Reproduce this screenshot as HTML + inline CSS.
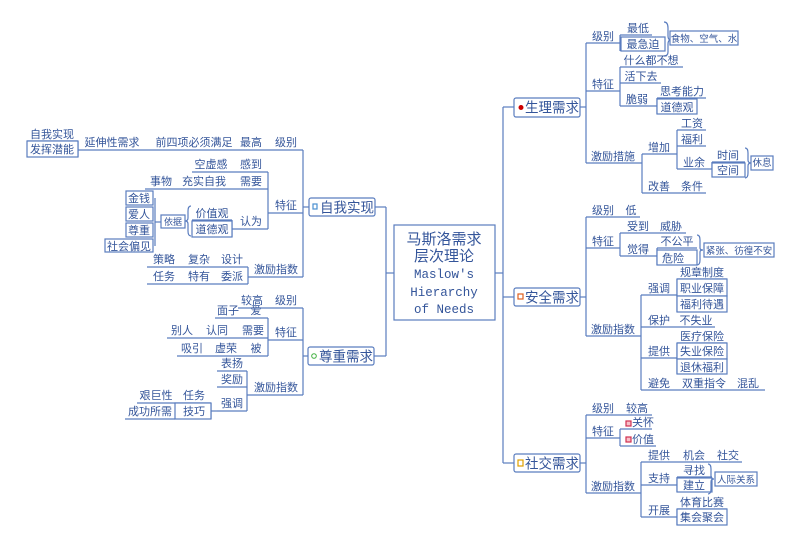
<!DOCTYPE html>
<html><head><meta charset="utf-8"><style>
html,body{margin:0;padding:0;background:#fff;width:800px;height:546px;overflow:hidden}
svg{display:block}
text{font-family:"Liberation Sans","Noto Sans CJK SC",sans-serif;font-size:11px;fill:#34559a;text-anchor:middle}
.m{font-size:14px}
.mono{font-family:"Liberation Mono",monospace;font-size:12.5px}
line,rect,path{stroke:#5a7dbf;stroke-width:1.2;fill:none}
rect{fill:#fff}
</style></head><body>
<svg width="800" height="546" viewBox="0 0 800 546" xmlns="http://www.w3.org/2000/svg">
<!-- central -->
<rect x="394" y="225" width="101" height="95"/>
<text x="444" y="244" style="font-size:15px">马斯洛需求</text>
<text x="444" y="261" style="font-size:15px">层次理论</text>
<text x="444" y="278" class="mono">Maslow's</text>
<text x="444" y="296" class="mono">Hierarchy</text>
<text x="444" y="313" class="mono">of Needs</text>
<line x1="386" y1="207" x2="386" y2="356"/><line x1="386" y1="273" x2="394" y2="273"/>
<line x1="375" y1="207" x2="386" y2="207"/><line x1="374" y1="356" x2="386" y2="356"/>
<line x1="495" y1="273" x2="503" y2="273"/><line x1="503" y1="107" x2="503" y2="463"/>
<line x1="503" y1="107" x2="514" y2="107"/><line x1="503" y1="297" x2="514" y2="297"/><line x1="503" y1="463" x2="514" y2="463"/>

<!-- main nodes -->
<rect x="514" y="98" width="66" height="19" rx="2"/><circle cx="521" cy="107.5" r="2.5" fill="#c00" stroke="none"/><text x="552" y="112.5" class="m" textLength="54" lengthAdjust="spacingAndGlyphs">生理需求</text>
<rect x="514" y="288" width="66" height="18" rx="2"/><rect x="518" y="294" width="5" height="5" style="stroke:#e06020;fill:#fff"/><text x="552" y="302.5" class="m" textLength="54" lengthAdjust="spacingAndGlyphs">安全需求</text>
<rect x="514" y="454" width="66" height="18" rx="2"/><rect x="518" y="460" width="5" height="6" style="stroke:#e0a000;fill:#fff"/><text x="552" y="468.5" class="m" textLength="54" lengthAdjust="spacingAndGlyphs">社交需求</text>
<rect x="309" y="198" width="66" height="18" rx="2"/><rect x="313" y="204" width="4" height="5" style="stroke:#4a90d0;fill:#fff"/><text x="347" y="212.5" class="m" textLength="54" lengthAdjust="spacingAndGlyphs">自我实现</text>
<rect x="308" y="347" width="66" height="18" rx="2"/><circle cx="314" cy="356" r="2.3" style="stroke:#40b040;fill:#fff"/><text x="346" y="361.5" class="m" textLength="54" lengthAdjust="spacingAndGlyphs">尊重需求</text>

<!-- 生理需求 -->
<line x1="580" y1="107" x2="586" y2="107"/><line x1="586" y1="43" x2="586" y2="163"/>
<line x1="586" y1="43" x2="620" y2="43"/><text x="603" y="40">级别</text>
<line x1="620" y1="35" x2="620" y2="51"/>
<line x1="620" y1="35" x2="652" y2="35"/><text x="638" y="32">最低</text>
<rect x="621" y="37" width="44" height="14"/><text x="643" y="48">最急迫</text>
<path d="M664 22 q4 0 4 6 v8 q0 4 3 4 q-3 0 -3 4 v8 q0 4 -4 4"/>
<rect x="670" y="31" width="68" height="14"/><text x="704" y="42" style="font-size:9.5px">食物、空气、水</text>
<line x1="586" y1="91" x2="620" y2="91"/><text x="603" y="88">特征</text>
<line x1="620" y1="67" x2="620" y2="106"/>
<line x1="620" y1="67" x2="683" y2="67"/><text x="651" y="64">什么都不想</text>
<line x1="620" y1="83" x2="661" y2="83"/><text x="641" y="80">活下去</text>
<line x1="620" y1="106" x2="657" y2="106"/><text x="637" y="103">脆弱</text>
<line x1="657" y1="98" x2="657" y2="114"/>
<line x1="657" y1="98" x2="706" y2="98"/><text x="682" y="95">思考能力</text>
<rect x="657" y="99" width="40" height="15"/><text x="677" y="111">道德观</text>
<line x1="586" y1="163" x2="642" y2="163"/><text x="613" y="160">激励措施</text>
<line x1="642" y1="154" x2="642" y2="193"/>
<line x1="642" y1="154" x2="677" y2="154"/><text x="659" y="151">增加</text>
<line x1="677" y1="130" x2="677" y2="169"/>
<line x1="677" y1="130" x2="706" y2="130"/><text x="692" y="127">工资</text>
<line x1="677" y1="146" x2="706" y2="146"/><text x="692" y="143">福利</text>
<line x1="677" y1="169" x2="712" y2="169"/><text x="694" y="166">业余</text>
<line x1="712" y1="162" x2="712" y2="169"/>
<line x1="712" y1="162" x2="745" y2="162"/><text x="728" y="159">时间</text>
<rect x="712" y="163" width="33" height="14"/><text x="728" y="174">空间</text>
<path d="M745 148 q3 0 3 5 v7 q0 3 3 3 q-3 0 -3 3 v7 q0 5 -3 5"/>
<rect x="751" y="156" width="22" height="14"/><text x="762" y="166" style="font-size:9.5px">休息</text>
<line x1="642" y1="193" x2="677" y2="193"/><text x="659" y="190">改善</text>
<line x1="677" y1="193" x2="706" y2="193"/><text x="692" y="190">条件</text>

<!-- 安全需求 -->
<line x1="580" y1="297" x2="586" y2="297"/><line x1="586" y1="217" x2="586" y2="336"/>
<line x1="586" y1="217" x2="620" y2="217"/><text x="603" y="214">级别</text>
<line x1="620" y1="217" x2="640" y2="217"/><text x="631" y="214">低</text>
<line x1="586" y1="248" x2="620" y2="248"/><text x="603" y="245">特征</text>
<line x1="620" y1="233" x2="620" y2="256"/>
<line x1="620" y1="233" x2="657" y2="233"/><text x="638" y="230">受到</text>
<line x1="657" y1="233" x2="686" y2="233"/><text x="671" y="230">威胁</text>
<line x1="620" y1="256" x2="657" y2="256"/><text x="638" y="253">觉得</text>
<line x1="657" y1="248" x2="657" y2="265"/>
<line x1="657" y1="248" x2="697" y2="248"/><text x="677" y="245">不公平</text>
<rect x="657" y="250" width="40" height="15"/><text x="673" y="262">危险</text>
<path d="M697 235 q3 0 3 5 v8 q0 2 3 2 q-3 0 -3 2 v8 q0 5 -3 5"/>
<rect x="704" y="243" width="70" height="14"/><text x="739" y="254" style="font-size:9.5px">紧张、彷徨不安</text>
<line x1="586" y1="336" x2="641" y2="336"/><text x="613" y="333">激励指数</text>
<line x1="641" y1="295" x2="641" y2="390"/>
<line x1="641" y1="295" x2="677" y2="295"/><text x="659" y="292">强调</text>
<line x1="677" y1="279" x2="677" y2="312"/>
<line x1="677" y1="279" x2="727" y2="279"/><text x="702" y="276">规章制度</text>
<rect x="677" y="279" width="50" height="17"/><text x="702" y="292">职业保障</text>
<rect x="677" y="296" width="50" height="16"/><text x="702" y="308">福利待遇</text>
<line x1="641" y1="327" x2="677" y2="327"/><text x="659" y="324">保护</text>
<line x1="677" y1="327" x2="715" y2="327"/><text x="696" y="324">不失业</text>
<line x1="641" y1="358" x2="677" y2="358"/><text x="659" y="355">提供</text>
<line x1="677" y1="343" x2="677" y2="374"/>
<line x1="677" y1="343" x2="727" y2="343"/><text x="702" y="340">医疗保险</text>
<rect x="677" y="343" width="50" height="16"/><text x="702" y="355">失业保险</text>
<rect x="677" y="359" width="50" height="15"/><text x="702" y="371">退休福利</text>
<line x1="641" y1="390" x2="677" y2="390"/><text x="659" y="387">避免</text>
<line x1="677" y1="390" x2="732" y2="390"/><text x="704" y="387">双重指令</text>
<line x1="732" y1="390" x2="765" y2="390"/><text x="748" y="387">混乱</text>

<!-- 社交需求 -->
<line x1="580" y1="463" x2="586" y2="463"/><line x1="586" y1="415" x2="586" y2="493"/>
<line x1="586" y1="415" x2="620" y2="415"/><text x="603" y="412">级别</text>
<line x1="620" y1="415" x2="652" y2="415"/><text x="637" y="412">较高</text>
<line x1="586" y1="438" x2="620" y2="438"/><text x="603" y="435">特征</text>
<line x1="620" y1="429" x2="620" y2="446"/>
<line x1="620" y1="429" x2="652" y2="429"/><rect x="626" y="421" width="5" height="5" style="stroke:#d03050;fill:#f8c0c8"/><text x="643" y="426">关怀</text>
<line x1="620" y1="446" x2="656" y2="446"/><rect x="626" y="437" width="5" height="5" style="stroke:#d03050;fill:#f8c0c8"/><text x="643" y="443">价值</text>
<line x1="586" y1="493" x2="641" y2="493"/><text x="613" y="490">激励指数</text>
<line x1="641" y1="462" x2="641" y2="517"/>
<line x1="641" y1="462" x2="677" y2="462"/><text x="659" y="459">提供</text>
<line x1="677" y1="462" x2="712" y2="462"/><text x="694" y="459">机会</text>
<line x1="712" y1="462" x2="742" y2="462"/><text x="728" y="459">社交</text>
<line x1="641" y1="485" x2="677" y2="485"/><text x="659" y="482">支持</text>
<line x1="677" y1="477" x2="677" y2="492"/>
<line x1="677" y1="477" x2="712" y2="477"/><text x="694" y="474">寻找</text>
<rect x="677" y="478" width="35" height="14"/><text x="694" y="489">建立</text>
<path d="M708 464 q3 0 3 5 v7 q0 3 3 3 q-3 0 -3 3 v7 q0 5 -3 5"/>
<rect x="715" y="472" width="42" height="14"/><text x="736" y="483" style="font-size:9.5px">人际关系</text>
<line x1="641" y1="517" x2="677" y2="517"/><text x="659" y="514">开展</text>
<line x1="677" y1="509" x2="677" y2="525"/>
<line x1="677" y1="509" x2="727" y2="509"/><text x="702" y="506">体育比赛</text>
<rect x="677" y="509" width="50" height="16"/><text x="702" y="521">集会聚会</text>

<!-- 自我实现 -->
<line x1="303" y1="207" x2="309" y2="207"/><line x1="303" y1="150" x2="303" y2="277"/>
<line x1="267" y1="150" x2="303" y2="150"/><text x="286" y="146">级别</text>
<line x1="232" y1="150" x2="267" y2="150"/><text x="251" y="146">最高</text>
<line x1="145" y1="150" x2="232" y2="150"/><text x="194" y="146">前四项必须满足</text>
<line x1="78" y1="150" x2="145" y2="150"/><text x="112" y="146">延伸性需求</text>
<line x1="78" y1="141" x2="78" y2="157"/>
<line x1="27" y1="141" x2="78" y2="141"/><text x="52" y="138">自我实现</text>
<rect x="27" y="141" width="51" height="16"/><text x="52" y="153">发挥潜能</text>
<line x1="268" y1="213" x2="303" y2="213"/><text x="286" y="209">特征</text>
<line x1="268" y1="172" x2="268" y2="229"/>
<line x1="232" y1="172" x2="268" y2="172"/><text x="251" y="168">感到</text>
<line x1="192" y1="172" x2="232" y2="172"/><text x="211" y="168">空虚感</text>
<line x1="232" y1="189" x2="268" y2="189"/><text x="251" y="185">需要</text>
<line x1="175" y1="189" x2="232" y2="189"/><text x="204" y="185">充实自我</text>
<line x1="145" y1="189" x2="175" y2="189"/><text x="161" y="185">事物</text>
<line x1="232" y1="229" x2="268" y2="229"/><text x="251" y="225">认为</text>
<line x1="232" y1="220" x2="232" y2="237"/>
<line x1="192" y1="220" x2="232" y2="220"/><text x="212" y="217">价值观</text>
<rect x="192" y="221" width="40" height="16"/><text x="212" y="233">道德观</text>
<path d="M191 206 q-3 0 -3 5 v7 q0 3 -3 3 q3 0 3 3 v7 q0 5 3 5"/>
<rect x="161" y="215" width="24" height="13"/><text x="173" y="225" style="font-size:9px">依据</text>
<line x1="155" y1="222" x2="161" y2="222"/>
<line x1="155" y1="198" x2="155" y2="246"/>
<rect x="126" y="191" width="27" height="14"/><text x="139" y="202">金钱</text>
<rect x="126" y="207" width="27" height="14"/><text x="139" y="218">爱人</text>
<rect x="126" y="223" width="27" height="14"/><text x="139" y="234">尊重</text>
<rect x="105" y="239" width="48" height="13"/><text x="129" y="250">社会偏见</text>
<line x1="248" y1="277" x2="303" y2="277"/><text x="276" y="273">激励指数</text>
<line x1="248" y1="267" x2="248" y2="284"/>
<line x1="217" y1="267" x2="248" y2="267"/><text x="232" y="263">设计</text>
<line x1="182" y1="267" x2="217" y2="267"/><text x="199" y="263">复杂</text>
<line x1="147" y1="267" x2="182" y2="267"/><text x="164" y="263">策略</text>
<line x1="217" y1="284" x2="248" y2="284"/><text x="232" y="280">委派</text>
<line x1="182" y1="284" x2="217" y2="284"/><text x="199" y="280">特有</text>
<line x1="147" y1="284" x2="182" y2="284"/><text x="164" y="280">任务</text>

<!-- 尊重需求 -->
<line x1="303" y1="356" x2="308" y2="356"/><line x1="303" y1="308" x2="303" y2="395"/>
<line x1="267" y1="308" x2="303" y2="308"/><text x="286" y="304">级别</text>
<line x1="238" y1="308" x2="267" y2="308"/><text x="252" y="304">较高</text>
<line x1="268" y1="340" x2="303" y2="340"/><text x="286" y="336">特征</text>
<line x1="268" y1="318" x2="268" y2="356"/>
<line x1="242" y1="318" x2="268" y2="318"/><text x="256" y="314">爱</text>
<line x1="215" y1="318" x2="242" y2="318"/><text x="228" y="314">面子</text>
<line x1="242" y1="338" x2="268" y2="338"/><text x="253" y="334">需要</text>
<line x1="197" y1="338" x2="242" y2="338"/><text x="217" y="334">认同</text>
<line x1="167" y1="338" x2="197" y2="338"/><text x="182" y="334">别人</text>
<line x1="242" y1="356" x2="268" y2="356"/><text x="256" y="352">被</text>
<line x1="207" y1="356" x2="242" y2="356"/><text x="226" y="352">虚荣</text>
<line x1="177" y1="356" x2="207" y2="356"/><text x="192" y="352">吸引</text>
<line x1="247" y1="395" x2="303" y2="395"/><text x="276" y="391">激励指数</text>
<line x1="247" y1="371" x2="247" y2="411"/>
<line x1="217" y1="371" x2="247" y2="371"/><text x="232" y="367">表扬</text>
<line x1="217" y1="387" x2="247" y2="387"/><text x="232" y="383">奖励</text>
<line x1="217" y1="411" x2="247" y2="411"/><text x="232" y="407">强调</text>
<line x1="211" y1="403" x2="211" y2="419"/><line x1="211" y1="411" x2="217" y2="411"/>
<line x1="175" y1="403" x2="211" y2="403"/><text x="194" y="399">任务</text>
<line x1="137" y1="403" x2="175" y2="403"/><text x="156" y="399">艰巨性</text>
<rect x="175" y="403" width="36" height="16"/><text x="194" y="415">技巧</text>
<line x1="125" y1="419" x2="175" y2="419"/><text x="150" y="415">成功所需</text>
</svg>
</body></html>
